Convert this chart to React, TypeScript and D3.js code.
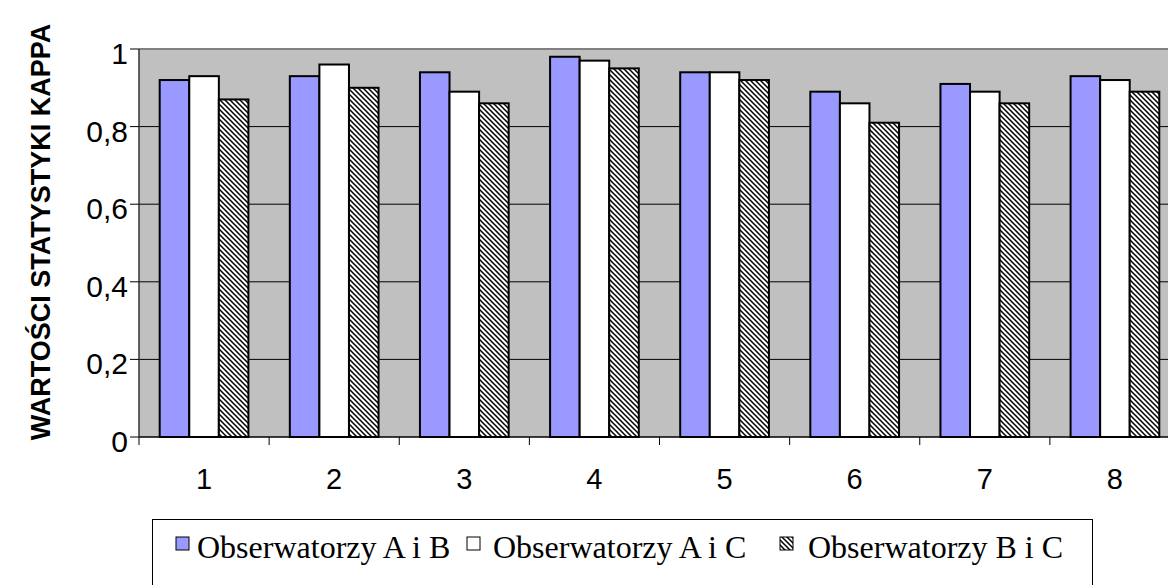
import React from "react";
import * as d3 from "d3";

const categories = ["1", "2", "3", "4", "5", "6", "7", "8"];
const seriesNames = ["Obserwatorzy A i B", "Obserwatorzy A i C", "Obserwatorzy B i C"];
const abValues = [0.92, 0.93, 0.94, 0.98, 0.94, 0.89, 0.91, 0.93];
const acValues = [0.93, 0.96, 0.89, 0.97, 0.94, 0.86, 0.89, 0.92];
const bcValues = [0.87, 0.9, 0.86, 0.95, 0.92, 0.81, 0.86, 0.89];
const yTicks = [0, 0.2, 0.4, 0.6, 0.8, 1];
const yTickLabels = ["0", "0,2", "0,4", "0,6", "0,8", "1"];
const yTitle = "WARTOŚCI STATYSTYKI KAPPA";

const W = 1168;
const H = 585;
const plot = { left: 139, top: 49, right: 1180, bottom: 437 };
const fills = ["#9999FF", "#FFFFFF", "url(#hatch)"];
const sans = "'Liberation Sans', Arial, sans-serif";
const serif = "'Liberation Serif', 'Times New Roman', serif";

export default function App() {
  const series = [abValues, acValues, bcValues];
  const x = d3.scaleBand<string>().domain(categories).range([plot.left, plot.right]).paddingInner(0).paddingOuter(0);
  const inner = d3.scaleBand<number>().domain([0, 1, 2]).range([0, x.bandwidth()]).paddingOuter(0.7).paddingInner(0);
  const y = d3.scaleLinear().domain([0, 1]).range([plot.bottom, plot.top]);
  const boundaries = d3.range(categories.length + 1).map((i) => plot.left + i * x.step());

  const legendItems = [
    { x: 176, tx: 197 },
    { x: 467, tx: 493 },
    { x: 780, tx: 808 },
  ];

  return (
    <svg width={W} height={H} style={{ position: "absolute", left: 0, top: 0, display: "block" }}>
      <defs>
        <pattern id="hatch" patternUnits="userSpaceOnUse" width={5} height={5}>
          <rect width={5} height={5} fill="#fff" />
          <path d="M-1,-1 L6,6 M-1,4 L1,6 M4,-1 L6,1" stroke="#000" strokeWidth={1.5} />
        </pattern>
        <clipPath id="page">
          <rect x={0} y={0} width={W} height={H} />
        </clipPath>
      </defs>
      <rect x={0} y={0} width={W} height={H} fill="#fff" />
      <g clipPath="url(#page)">
        <rect x={plot.left} y={plot.top} width={plot.right - plot.left} height={plot.bottom - plot.top} fill="#C0C0C0" />
        <line x1={plot.left} x2={plot.right} y1={plot.top} y2={plot.top} stroke="#808080" strokeWidth={2} />
        {yTicks.slice(1, -1).map((t) => (
          <line key={t} x1={plot.left} x2={plot.right} y1={y(t)} y2={y(t)} stroke="#000" strokeWidth={1} />
        ))}
        {categories.map((c, ci) =>
          series.map((vals, si) => (
            <rect
              key={c + si}
              x={(x(c) as number) + (inner(si) as number)}
              y={y(vals[ci])}
              width={inner.bandwidth()}
              height={plot.bottom - y(vals[ci])}
              fill={fills[si]}
              stroke="#000"
              strokeWidth={2}
            />
          ))
        )}
        <line x1={plot.left} x2={plot.right} y1={plot.bottom} y2={plot.bottom} stroke="#000" strokeWidth={1.5} />
        <line x1={plot.left} x2={plot.left} y1={plot.top} y2={plot.bottom} stroke="#333" strokeWidth={1.5} />
        {yTicks.map((t, i) => (
          <g key={t}>
            <line x1={plot.left - 9} x2={plot.left} y1={y(t)} y2={y(t)} stroke="#000" />
            <text x={plot.left - 11} y={y(t) + 15} textAnchor="end" fontFamily={sans} fontSize={30} fill="#000">
              {yTickLabels[i]}
            </text>
          </g>
        ))}
        {boundaries.map((b, i) => (
          <line key={i} x1={b} x2={b} y1={plot.bottom} y2={plot.bottom + 8} stroke="#000" />
        ))}
        {categories.map((c) => (
          <text key={c} x={(x(c) as number) + x.bandwidth() / 2} y={489} textAnchor="middle" fontFamily={sans} fontSize={29} fill="#000">
            {c}
          </text>
        ))}
        <text
          transform={`translate(50,232) rotate(-90)`}
          textAnchor="middle"
          fontFamily={sans}
          fontWeight="bold"
          fontSize={27}
          fill="#000"
        >
          {yTitle}
        </text>
        <rect x={152.5} y={519.5} width={940} height={80} fill="#fff" stroke="#000" strokeWidth={1} />
        {legendItems.map((it, i) => (
          <g key={i}>
            <rect x={it.x} y={537} width={13} height={13} fill={fills[i]} stroke="#000" strokeWidth={1} />
            <text x={it.tx} y={558} fontFamily={serif} fontSize={32} fill="#000">
              {seriesNames[i]}
            </text>
          </g>
        ))}
      </g>
    </svg>
  );
}
